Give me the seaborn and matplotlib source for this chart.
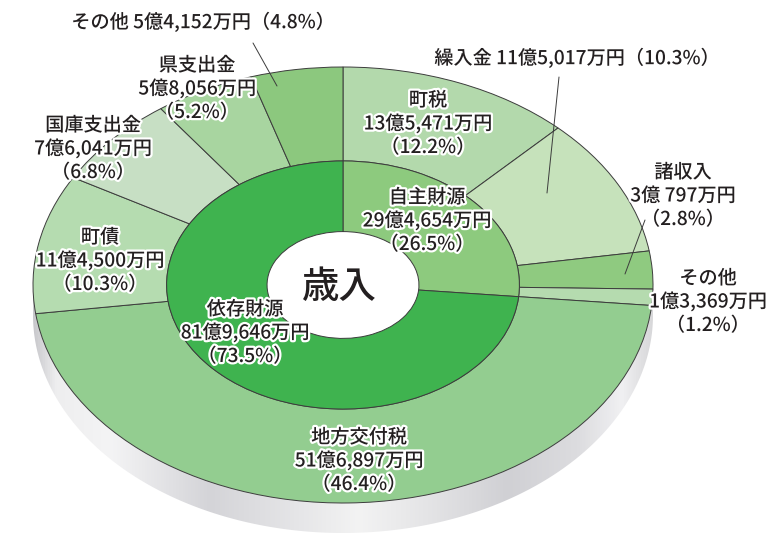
import numpy as np
import matplotlib
matplotlib.use("Agg")
import matplotlib.pyplot as plt
import matplotlib.patheffects as pe
from matplotlib.colors import LinearSegmentedColormap
from matplotlib.patches import Polygon
import seaborn as sns

sns.set_theme(style="white")
plt.rcParams["font.family"] = ["Noto Sans CJK JP", "DejaVu Sans"]

# ---------------- data ----------------
inner_labels = ["自主財源", "依存財源"]
inner_amounts = ["29億4,654万円", "81億9,646万円"]
inner_values = [26.5, 73.5]

outer_labels = ["町税", "繰入金", "諸収入", "その他", "地方交付税",
                "町債", "国庫支出金", "県支出金", "その他"]
outer_amounts = ["13億5,471万円", "11億5,017万円", "3億 797万円", "1億3,369万円",
                 "51億6,897万円", "11億4,500万円", "7億6,041万円", "5億8,056万円",
                 "5億4,152万円"]
outer_values = [12.2, 10.3, 2.8, 1.2, 46.4, 10.3, 6.8, 5.2, 4.8]

center_title = "歳入"

# ---------------- style ----------------
inner_colors = ["#8dca7e", "#3fb34f"]
outer_colors = ["#b3d9ac", "#c6e2bb", "#8fca80", "#b5dbaf", "#93cd90",
                "#b5dcb0", "#c7dfc4", "#a8d5a0", "#8cc87e"]

W, H = 779, 536
CX, CY = 343, 285          # ellipse centre in pixels
RX, RY = 310, 218          # outer half axes in pixels
R_IN = 0.569               # inner ring radius (fraction)
R_HOLE = 0.245             # hole radius
DEPTH = 30 / RY            # side thickness in data units


def px(x, y):
    """pixel position -> data coordinates"""
    return (x - CX) / RX, (CY - y) / RY


fig = plt.figure(figsize=(W / 100, H / 100), dpi=100)
ax = fig.add_axes([0, 0, 1, 1])

edge = dict(edgecolor="#3c3c3c", linewidth=0.7)

ax.pie(outer_values, radius=1.0, startangle=90, counterclock=False,
       colors=outer_colors, wedgeprops=dict(width=1.0 - R_IN, **edge))
ax.pie(inner_values, radius=R_IN, startangle=90, counterclock=False,
       colors=inner_colors, wedgeprops=dict(width=R_IN - R_HOLE, **edge))

ax.set_aspect("auto")
x0, y0 = px(0, H)
x1, y1 = px(W, 0)
ax.set_xlim(x0, x1)
ax.set_ylim(y0, y1)
ax.axis("off")

# ---------------- side (3D thickness) ----------------
t = np.linspace(np.pi, 2 * np.pi, 300)
top = np.column_stack([np.cos(t), np.sin(t)])
bot = np.column_stack([np.cos(t), np.sin(t) - DEPTH])[::-1]
side = Polygon(np.vstack([top, bot]), closed=True, facecolor="none",
               edgecolor="none", zorder=0)
ax.add_patch(side)
stops_px = [33, 55, 110, 210, 300, 360, 430, 510, 580, 625, 655]
stops_col = ["#c8c8cc", "#eeeeef", "#f4f4f5", "#d4d4d8", "#e6e6e8", "#f3f3f3",
             "#e4e4e6", "#d0d0d4", "#dcdcdf", "#f0f0f2", "#d8d8da"]
pos = [(s - stops_px[0]) / (stops_px[-1] - stops_px[0]) for s in stops_px]
cmap = LinearSegmentedColormap.from_list("side", list(zip(pos, stops_col)))
grad = np.linspace(0, 1, 512)[None, :]
im = ax.imshow(grad, cmap=cmap, aspect="auto",
               extent=(-1.0, 1.0, -1.0 - DEPTH - 0.01, 0.05), zorder=0,
               interpolation="bilinear")
im.set_clip_path(side)
ax.set_xlim(x0, x1)
ax.set_ylim(y0, y1)

# ---------------- labels ----------------
stroke = [pe.withStroke(linewidth=3.2, foreground="white")]
TXT = "#231f20"
FS = 13.8
GAP = 23.5


def label(lines, x, y, fs=FS):
    for i, s in enumerate(lines):
        ax.text(*px(x, y + i * GAP), s, ha="center", va="center",
                fontsize=fs, color=TXT, fontweight="medium",
                path_effects=stroke, zorder=5)


def pct(v):
    return f"（{v}%）"


# layout: (pixel x, first-line pixel y, multi-line?)
outer_pos = [(428, 100, True), (577, 58, False), (683, 172, True),
             (708, 278, True), (359, 437, True), (100, 237, True),
             (93, 125, True), (197, 65, True), (203, 22, False)]
for lab, amt, v, (x, y, multi) in zip(outer_labels, outer_amounts,
                                      outer_values, outer_pos):
    if multi:
        label([lab, amt, pct(v)], x, y)
    else:
        label([f"{lab} {amt}{pct(v)}"], x, y)

inner_pos = [(427, 197), (245, 309)]
for lab, amt, v, (x, y) in zip(inner_labels, inner_amounts, inner_values,
                               inner_pos):
    label([lab, amt, pct(v)], x, y)

ax.text(*px(339, 287), center_title, ha="center", va="center",
        fontsize=27, color=TXT, fontweight="medium", zorder=5)

# leader lines
leaders = [((253, 43), (277, 86)), ((559, 77), (547, 193)),
           ((645, 220), (625, 274))]
for (xa, ya), (xb, yb) in leaders:
    (ua, va_), (ub, vb) = px(xa, ya), px(xb, yb)
    ax.plot([ua, ub], [va_, vb], color="#3c3c3c", lw=0.7, zorder=4)

fig.savefig("out.png", dpi=100)
